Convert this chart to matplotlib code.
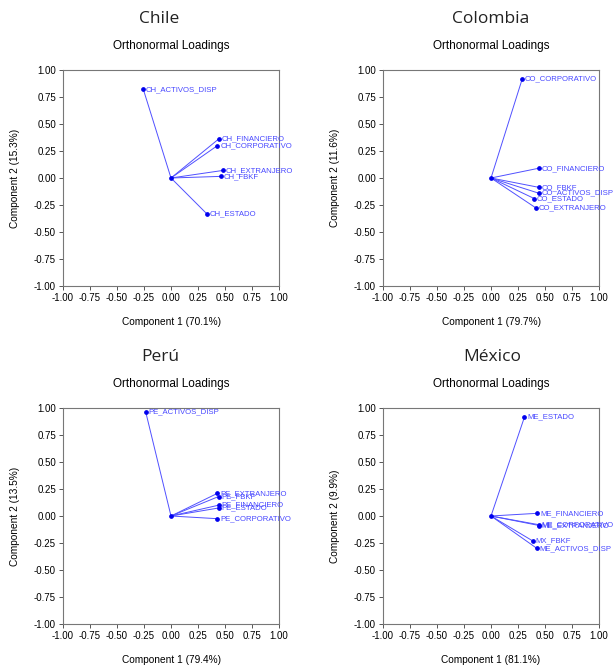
import matplotlib
matplotlib.use("Agg")
import matplotlib.pyplot as plt

plt.rcParams['font.family'] = ['Liberation Sans', 'DejaVu Sans']

# loadings (component 1, component 2)
ch_names = ['CH_ACTIVOS_DISP', 'CH_FINANCIERO', 'CH_CORPORATIVO', 'CH_EXTRANJERO', 'CH_FBKF', 'CH_ESTADO']
ch_c1 = [-0.256, 0.44, 0.43, 0.48, 0.46, 0.33]
ch_c2 = [0.82, 0.36, 0.30, 0.07, 0.015, -0.33]

co_names = ['CO_CORPORATIVO', 'CO_FINANCIERO', 'CO_FBKF', 'CO_ACTIVOS_DISP', 'CO_ESTADO', 'CO_EXTRANJERO']
co_c1 = [0.29, 0.44, 0.44, 0.44, 0.40, 0.42]
co_c2 = [0.92, 0.09, -0.086, -0.14, -0.19, -0.28]

pe_names = ['PE_ACTIVOS_DISP', 'PE_EXTRANJERO', 'PE_FBKF', 'PE_FINANCIERO', 'PE_ESTADO', 'PE_CORPORATIVO']
pe_c1 = [-0.234, 0.43, 0.44, 0.44, 0.44, 0.43]
pe_c2 = [0.963, 0.21, 0.18, 0.10, 0.074, -0.025]

me_names = ['ME_ESTADO', 'ME_FINANCIERO', 'ME_CORPORATIVO', 'ME_EXTRANJERO', 'MX_FBKF', 'ME_ACTIVOS_DISP']
me_c1 = [0.31, 0.43, 0.44, 0.445, 0.39, 0.425]
me_c2 = [0.917, 0.025, -0.08, -0.088, -0.233, -0.30]

countries = ['Chile', 'Colombia', 'Perú', 'México']
var1 = ['70.1', '79.7', '79.4', '81.1']
var2 = ['15.3', '11.6', '13.5', '9.9']
ticks = [-1.0, -0.75, -0.5, -0.25, 0.0, 0.25, 0.5, 0.75, 1.0]

W, H = 613, 667
fig = plt.figure(figsize=(W / 100, H / 100), dpi=100)

panels = [
    (ch_names, ch_c1, ch_c2, 63, 70, 159),
    (co_names, co_c1, co_c2, 383, 70, 491),
    (pe_names, pe_c1, pe_c2, 63, 408, 160),
    (me_names, me_c1, me_c2, 383, 408, 492),
]

for i, (names, c1, c2, left, top, tx) in enumerate(panels):
    size = 216
    ax = fig.add_axes([left / W, 1 - (top + size) / H, size / W, size / H])
    for n, x, y in zip(names, c1, c2):
        ax.plot([0, x], [0, y], color='#5050ff', lw=0.7)
        ax.plot([x], [y], 'o', color='#0000ee', ms=2.4)
        ax.text(x + 0.025, y, n, color='#4848ff', fontsize=5.6, va='center', ha='left', clip_on=False)
    ax.plot([0], [0], 'o', color='#0000ee', ms=2.4)
    ax.set_xlim(-1, 1)
    ax.set_ylim(-1, 1)
    ax.set_xticks(ticks)
    ax.set_yticks(ticks)
    ax.set_xticklabels(['%.2f' % t for t in ticks])
    ax.set_yticklabels(['%.2f' % t for t in ticks])
    ax.tick_params(labelsize=7, length=3, width=0.7, color='#555555', pad=2)
    for s in ax.spines.values():
        s.set_color('#777777')
        s.set_linewidth(0.8)
    cx = (left + size / 2) / W
    fig.text(tx / W, 1 - (top - 51) / H, countries[i], fontsize=12.5, family=['Open Sans', 'DejaVu Sans'],
             ha='center', va='center', color='#222222')
    fig.text(cx, 1 - (top - 24) / H, 'Orthonormal Loadings', fontsize=8.5, ha='center', va='center')
    fig.text(cx, 1 - (top + 252) / H, 'Component 1 (%s%%)' % var1[i], fontsize=7.3, ha='center', va='center')
    fig.text((left - 48) / W, 1 - (top + 108) / H, 'Component 2 (%s%%)' % var2[i], fontsize=7.3,
             ha='center', va='center', rotation=90)

fig.savefig('out.png', dpi=100)
